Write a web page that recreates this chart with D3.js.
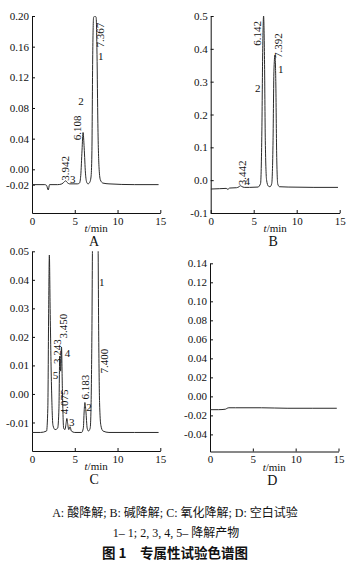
<!DOCTYPE html>
<html><head><meta charset="utf-8">
<script src="https://cdn.jsdelivr.net/npm/d3@7"></script>
<style>
body{margin:0;background:#fff;}
svg text{font-family:"Liberation Serif","Noto Sans CJK SC",serif;fill:#111;}
</style></head>
<body>
<svg id="c" width="355" height="563"></svg>
<script>
// ---- Data ----
const xTicks = [0, 5, 10, 15];
const xTickLabels = ["0", "5", "10", "15"];

// Panel A: acid degradation
const aTime = [0,1.5,1.7,1.9,2.05,3.0,3.5,3.8,3.95,4.1,4.4,4.8,5.3,5.55,5.7,5.85,5.97,6.1,6.25,6.4,6.55,6.75,6.9,7.0,7.1,7.2,7.35,7.5,7.6,7.7,7.85,8.0,8.3,9.0,12.0,14.8];
const aValue = [-0.020,-0.020,-0.021,-0.027,-0.020,-0.020,-0.019,-0.016,-0.015,-0.017,-0.019,-0.019,-0.019,-0.018,-0.008,0.025,0.048,0.028,-0.005,-0.017,-0.019,-0.017,-0.010,0.020,0.150,0.198,0.200,0.198,0.150,0.060,0.000,-0.014,-0.018,-0.019,-0.020,-0.020];
const aYTicks = [0.20,0.16,0.12,0.08,0.04,0.00,-0.02];
const aYTickLabels = ["0.20","0.16","0.12","0.08","0.04","0.00","-0.02"];
const aYDomain = [-0.057, 0.20];
const aRtLabels = [{t:"3.942",x:3.86,y:0.0013},{t:"6.108",x:5.26,y:0.054},{t:"7.367",x:7.98,y:0.175}];
const aPeakNums = [{t:"3",x:4.75,y:-0.0132},{t:"2",x:5.73,y:0.0887},{t:"1",x:8.05,y:0.147}];

// Panel B: base degradation
const bTime = [0,1.0,1.8,2.0,2.2,3.0,3.3,3.45,3.6,3.9,4.5,5.5,5.8,5.95,6.05,6.15,6.25,6.35,6.5,6.7,6.9,7.1,7.25,7.35,7.47,7.57,7.67,7.8,8.0,9.0,12.0,14.8];
const bValue = [-0.027,-0.026,-0.025,-0.028,-0.024,-0.023,-0.020,-0.017,-0.019,-0.022,-0.022,-0.021,-0.010,0.150,0.400,0.500,0.380,0.120,0.000,-0.018,-0.020,-0.010,0.120,0.330,0.381,0.300,0.080,-0.012,-0.020,-0.021,-0.022,-0.022];
const bYTicks = [0.5,0.4,0.3,0.2,0.1,0.0,-0.1];
const bYTickLabels = ["0.5","0.4","0.3","0.2","0.1","0.0","-0.1"];
const bYDomain = [-0.1, 0.5];
const bRtLabels = [{t:"3.442",x:3.6,y:0.022},{t:"6.142",x:5.35,y:0.447},{t:"7.392",x:7.83,y:0.41}];
const bPeakNums = [{t:"4",x:4.25,y:-0.003},{t:"2",x:5.47,y:0.280},{t:"1",x:8.15,y:0.339}];

// Panel C: oxidative degradation
const cTime = [0,1.0,1.7,1.85,1.95,2.03,2.12,2.3,2.45,2.7,3.0,3.15,3.243,3.35,3.45,3.55,3.7,3.85,4.0,4.075,4.15,4.3,4.45,4.6,5.0,5.8,6.0,6.1,6.183,6.3,6.45,6.6,6.8,6.9,7.0,7.1,7.4,7.7,7.8,7.9,8.05,8.3,9.0,12.0,14.8];
const cValue = [-0.0135,-0.0135,-0.013,-0.005,0.030,0.0487,0.030,0.000,-0.011,-0.0125,-0.012,-0.005,0.0133,0.008,0.0164,0.002,-0.012,-0.0125,-0.010,-0.0086,-0.010,-0.0125,-0.0115,-0.013,-0.0135,-0.0135,-0.012,-0.006,-0.003,-0.006,-0.012,-0.013,-0.012,-0.005,0.020,0.060,0.070,0.060,0.020,-0.003,-0.011,-0.013,-0.0135,-0.0135,-0.0135];
const cYTicks = [0.05,0.04,0.03,0.02,0.01,0.00,-0.01];
const cYTickLabels = ["0.05","0.04","0.03","0.02","0.01","0.00","-0.01"];
const cYDomain = [-0.020, 0.050];
const cRtLabels = [{t:"3.450",x:3.66,y:0.0238},{t:"3.243",x:2.96,y:0.0148},{t:"4.075",x:3.74,y:-0.0028},{t:"6.183",x:6.2,y:0.0024},{t:"7.400",x:8.42,y:0.0115}];
const cPeakNums = [{t:"4",x:4.15,y:0.0144},{t:"5",x:2.74,y:0.0066},{t:"3",x:4.64,y:-0.0100},{t:"2",x:6.67,y:-0.0045},{t:"1",x:8.15,y:0.0393}];

// Panel D: blank
const dTime = [0,1.0,1.8,2.0,2.2,3.0,6.0,9.0,12.0,14.8];
const dValue = [-0.014,-0.014,-0.0135,-0.0125,-0.012,-0.012,-0.012,-0.0125,-0.0125,-0.0125];
const dYTicks = [0.14,0.12,0.10,0.08,0.06,0.04,0.02,0.00,-0.02,-0.04];
const dYTickLabels = ["0.14","0.12","0.10","0.08","0.06","0.04","0.02","0.00","-0.02","-0.04"];
const dYDomain = [-0.058, 0.14];

const panelNames = ["A","B","C","D"];
const captionLines = ["A: 酸降解; B: 碱降解; C: 氧化降解; D: 空白试验", "1– 1; 2, 3, 4, 5– 降解产物", "图 1　专属性试验色谱图"];

// ---- Drawing ----
const svg = d3.select("#c");

function panel(cfg){
  const g = svg.append("g");
  const x = d3.scaleLinear().domain([0,15]).range([cfg.x0, cfg.x1]);
  const y = d3.scaleLinear().domain(cfg.yDomain).range([cfg.yb, cfg.yt]);
  const ax = g.append("g").attr("transform",`translate(0,${cfg.yb})`)
    .call(d3.axisBottom(x).tickValues(xTicks).tickFormat((d,i)=>xTickLabels[i]).tickSizeInner(-3).tickSizeOuter(0).tickPadding(4));
  const ay = g.append("g").attr("transform",`translate(${cfg.x0},0)`)
    .call(d3.axisLeft(y).tickValues(cfg.yTicks).tickFormat((d,i)=>cfg.yTickLabels[i]).tickSizeInner(-3).tickSizeOuter(0).tickPadding(3));
  [ax,ay].forEach(a=>{
    a.select(".domain").attr("stroke","#111").attr("stroke-width",1);
    a.selectAll(".tick line").attr("stroke","#111");
    a.selectAll("text").style("font-family","'Liberation Serif',serif").style("font-size","11px").attr("fill","#111");
  });
  const pts = cfg.time.map((t,i)=>[t,cfg.value[i]]);
  const clipId = "clip"+cfg.name;
  g.append("clipPath").attr("id",clipId).append("rect")
    .attr("x",cfg.x0).attr("y",cfg.yt).attr("width",cfg.x1-cfg.x0).attr("height",cfg.yb-cfg.yt);
  g.append("path").datum(pts)
    .attr("clip-path",`url(#${clipId})`)
    .attr("fill","none").attr("stroke","#2a2a2a").attr("stroke-width",1)
    .attr("d", d3.line().x(d=>x(d[0])).y(d=>y(d[1])).curve(d3.curveMonotoneX));
  (cfg.rt||[]).forEach(l=>{
    g.append("text").attr("transform",`translate(${x(l.x)},${y(l.y)}) rotate(-90)`)
      .attr("text-anchor","middle").attr("dy","0.35em")
      .style("font-size","11px").text(l.t);
  });
  (cfg.nums||[]).forEach(l=>{
    g.append("text").attr("x",x(l.x)).attr("y",y(l.y)).attr("text-anchor","middle").attr("dy","0.35em")
      .style("font-size","11px").text(l.t);
  });
  const xl = g.append("text").attr("x",(cfg.x0+cfg.x1)/2).attr("y",cfg.yb+19).attr("text-anchor","middle")
    .style("font-size","11px");
  xl.append("tspan").style("font-style","italic").text("t");
  xl.append("tspan").text("/min");
  g.append("text").attr("x",(cfg.x0+cfg.x1)/2 - 2).attr("y",cfg.yb+33).attr("text-anchor","middle")
    .style("font-size","14px").text(cfg.name);
}

panel({name:panelNames[0],x0:32,x1:160.3,yt:16,yb:213,yDomain:aYDomain,yTicks:aYTicks,yTickLabels:aYTickLabels,time:aTime,value:aValue,rt:aRtLabels,nums:aPeakNums});
panel({name:panelNames[1],x0:210.7,x1:339.7,yt:16,yb:213,yDomain:bYDomain,yTicks:bYTicks,yTickLabels:bYTickLabels,time:bTime,value:bValue,rt:bRtLabels,nums:bPeakNums});
panel({name:panelNames[2],x0:32,x1:160.3,yt:251.3,yb:451,yDomain:cYDomain,yTicks:cYTicks,yTickLabels:cYTickLabels,time:cTime,value:cValue,rt:cRtLabels,nums:cPeakNums});
panel({name:panelNames[3],x0:210,x1:338.5,yt:263.3,yb:451.5,yDomain:dYDomain,yTicks:dYTicks,yTickLabels:dYTickLabels,time:dTime,value:dValue});

const capFont = "'Liberation Serif','Noto Sans CJK SC',serif";
svg.append("text").attr("x",175).attr("y",517).attr("text-anchor","middle")
  .style("font-size","12px").style("font-family",capFont).text(captionLines[0]);
svg.append("text").attr("x",176).attr("y",537).attr("text-anchor","middle")
  .style("font-size","12px").style("font-family",capFont).text(captionLines[1]);
svg.append("text").attr("x",175).attr("y",558).attr("text-anchor","middle")
  .style("font-size","13.5px").style("font-weight","bold").style("font-family","'Noto Sans CJK SC',sans-serif").text(captionLines[2]);
</script>
</body></html>
